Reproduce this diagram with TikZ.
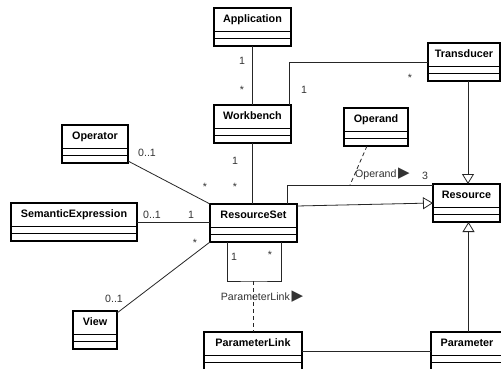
\documentclass[tikz,border=0pt]{standalone}
\usepackage{fontspec}
\setmainfont{Liberation Sans}
\newfontfamily\symfont{DejaVu Sans}
\usetikzlibrary{arrows.meta}
\tikzset{
  clsbox/.style={draw, line width=1.5pt, minimum height=38, inner sep=0pt, outer sep=0pt, fill=white},
  clsname/.style={font=\fontsize{10.8}{12}\selectfont\bfseries, inner sep=0pt, text height=7.8pt, text depth=2.2pt},
  cmpline/.style={line width=0.8pt},
  assoc/.style={line width=0.8pt, draw=black!85},
  gen/.style={line width=0.8pt, draw=black!85, -{Triangle[open, length=10pt, width=12pt, fill=white]}},
  dep/.style={line width=0.8pt, draw=black!85, dash pattern=on 4pt off 3pt},
  mult/.style={font=\fontsize{10.6}{12}\selectfont, inner sep=0pt, text=black!80},
}
\newcommand{\umlclass}[5]{%
  \node[clsbox, minimum width=#4, anchor=north west] (#1) at (#2,#3) {};
  \node[clsname] (#1-name) at ([yshift=-11.5pt]#1.north) {#5};
  \draw[cmpline] ([yshift=15pt]#1.south west) -- ([yshift=15pt]#1.south east);
  \draw[cmpline] ([yshift=7.5pt]#1.south west) -- ([yshift=7.5pt]#1.south east);
}
\newcommand{\rtri}{{\symfont\fontsize{15}{15}\selectfont ▶}}
\begin{document}
\begin{tikzpicture}[x=1pt, y=-1pt]
\fill[white] (0,0) rectangle (501,369);
\clip (0,0) rectangle (501,369);
\useasboundingbox (0,0) rectangle (501,369);

% classes
\umlclass{app}{214}{8}{77}{Application}
\umlclass{wb}{214}{105}{77}{Workbench}
\umlclass{td}{428}{43}{72}{Transducer}
\umlclass{opd}{344}{108}{64}{Operand}
\umlclass{opr}{62}{125}{66}{Operator}
\umlclass{se}{11}{203}{126}{SemanticExpression}
\umlclass{rs}{210}{204}{87}{ResourceSet}
\umlclass{res}{433}{184}{67}{Resource}
\umlclass{view}{73}{311}{44}{View}
\umlclass{pl}{204}{332}{98}{ParameterLink}
\umlclass{par}{431}{332}{72}{Parameter}

% coordinates
\coordinate (plk) at ([yshift=-39pt]rs.south);
\coordinate (opj) at (350,185);

% associations
\draw[assoc] (app.south) -- (app.south |- wb.north);
\draw[assoc] (wb.south) -- (wb.south |- rs.north);
\draw[assoc] ([xshift=-2pt]wb.north east) |- (td.west);
\draw[assoc] ([yshift=2pt]opr.south east) -- (rs.north west);
\draw[assoc] (se.east) -- (se.east -| rs.west);
\draw[assoc] ([yshift=-2pt]view.north east) -- (rs.south west);
\draw[assoc] ([xshift=-10pt]rs.north east) |- ([yshift=-1pt]res.north west);
\draw[assoc] ([xshift=17pt]rs.south west) |- (plk) -| ([xshift=-16pt]rs.south east);
\draw[assoc] (pl.east) -- (pl.east -| par.west);

% generalizations
\draw[gen] ([yshift=-2pt]rs.north east) -- ([yshift=-19pt]res.north west);
\draw[gen] ([xshift=4pt]td.south) -- ([xshift=4pt]td.south |- res.north);
\draw[gen] ([xshift=1.5pt]par.north) -- ([xshift=1.5pt]par.north |- res.south);

% association classes
\draw[dep] ([xshift=-9pt]opd.south) -- (opj);
\draw[dep] (plk) -- (plk |- pl.north);

% multiplicities
\node[mult] (m1) at (242,61) {1};
\node[mult] (m2) at (242,90) {*};
\node[mult] (m3) at (304,90) {1};
\node[mult] (m4) at (410,78) {*};
\node[mult] (m5) at (235,161) {1};
\node[mult] (m6) at (235,187) {*};
\node[mult] (m7) at (147,153) {0..1};
\node[mult] (m8) at (205,187) {*};
\node[mult] (m9) at (152,215) {0..1};
\node[mult] (m10) at (191,215) {1};
\node[mult] (m11) at (195,243) {*};
\node[mult] (m12) at (114,299) {0..1};
\node[mult] (m13) at (425,176) {3};
\node[mult] (m14) at (234,257) {1};
\node[mult] (m15) at (270,255) {*};

% association labels
\node[mult, anchor=west] (lop) at (355,174) {Operand\,\rtri};
\node[mult] (lpl) at (262,297) {ParameterLink\,\rtri};
\end{tikzpicture}
\end{document}
